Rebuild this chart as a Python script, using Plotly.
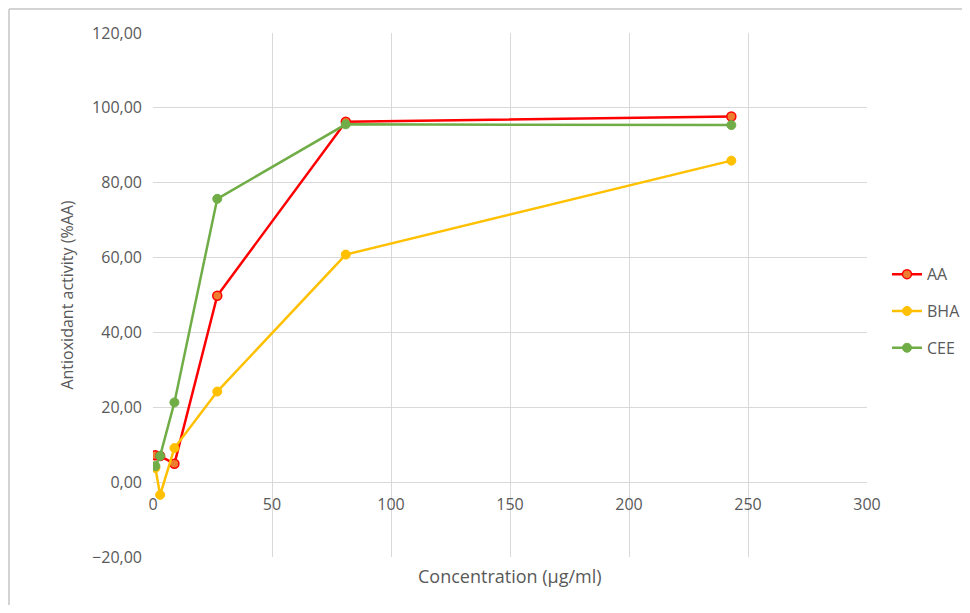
import plotly.graph_objects as go

concentration = [1, 3, 9, 27, 81, 243]
aa = [7.2, 7.0, 4.9, 49.8, 96.3, 97.7]
bha = [3.8, -3.4, 9.1, 24.2, 60.8, 85.9]
cee = [4.3, 7.0, 21.3, 75.7, 95.6, 95.4]

x_ticks = [0, 50, 100, 150, 200, 250, 300]
y_ticks = [-20, 0, 20, 40, 60, 80, 100, 120]

GRID = "#D9D9D9"
TXT = "#595959"
FONT = "Open Sans, Lato, sans-serif"
FS = 16

fig = go.Figure()
fig.add_trace(go.Scatter(
    x=concentration, y=aa, name="AA", mode="lines+markers", legendgroup="a",
    line=dict(color="#FF0000", width=2.5),
    marker=dict(size=9, color="#ED7D31", line=dict(color="#FF0000", width=1.5)),
))
fig.add_trace(go.Scatter(
    x=concentration, y=bha, name="BHA", mode="lines+markers", legendgroup="b",
    line=dict(color="#FFC000", width=2.5),
    marker=dict(size=9, color="#FFC000", line=dict(color="#FFC000", width=1)),
))
fig.add_trace(go.Scatter(
    x=concentration, y=cee, name="CEE", mode="lines+markers", legendgroup="c",
    line=dict(color="#70AD47", width=2.5),
    marker=dict(size=9, color="#70AD47", line=dict(color="#70AD47", width=1)),
))

ymin, ymax = -20, 120
zero_pos = (0 - ymin) / (ymax - ymin)

W, H = 954, 597
L, T, R, B = 145, 25, 95, 48
pw, ph = W - L - R, H - T - B

fig.update_layout(
    width=W, height=H,
    margin=dict(l=L, r=R, t=T, b=B, autoexpand=False),
    paper_bgcolor="white", plot_bgcolor="white",
    separators=",.",
    font=dict(family=FONT, size=FS, color=TXT),
    showlegend=True,
    legend=dict(x=1 + 20 / pw, xanchor="left", y=0.469, yanchor="middle",
                tracegroupgap=13, font=dict(size=FS, color=TXT),
                bgcolor="rgba(0,0,0,0)"),
    xaxis=dict(range=[0, 300], tickvals=x_ticks, showgrid=True, gridcolor=GRID,
               gridwidth=1, zeroline=False, showline=False,
               anchor="free", position=zero_pos, ticklabelstandoff=11,
               tickfont=dict(size=FS, color=TXT)),
    yaxis=dict(range=[ymin, ymax], tickvals=y_ticks, tickformat=".2f",
               showgrid=True, gridcolor=GRID, gridwidth=1, zeroline=True,
               zerolinecolor=GRID, zerolinewidth=1, showline=False,
               ticklabelstandoff=10, tickfont=dict(size=FS, color=TXT),
               title=dict(text="Antioxidant activity (%AA)", standoff=14,
                          font=dict(size=16, color=TXT))),
    annotations=[dict(text="Concentration (µg/ml)", xref="paper", yref="paper",
                      x=0.5, y=-19 / ph, xanchor="center", yanchor="middle",
                      showarrow=False, font=dict(size=18, color=TXT))],
    shapes=[
        dict(type="line", xref="paper", yref="paper", x0=-(L - 1) / pw, x1=1.2,
             y0=1 + (T - 1) / ph, y1=1 + (T - 1) / ph, line=dict(color="#D4D4D4", width=2)),
        dict(type="line", xref="paper", yref="paper", x0=-(L - 1) / pw, x1=-(L - 1) / pw,
             y0=1 + (T - 1) / ph, y1=-0.2, line=dict(color="#D4D4D4", width=2)),
    ],
)

fig.write_html("out.html")
